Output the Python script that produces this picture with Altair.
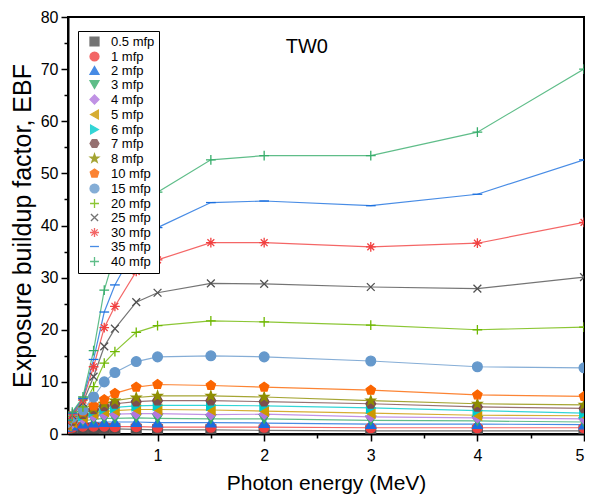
import altair as alt
import pandas as pd

energy = [0.15, 0.2, 0.3, 0.4, 0.5, 0.6, 0.8, 1, 1.5, 2, 3, 4, 5]
series = ["0.5 mfp", "1 mfp", "2 mfp", "3 mfp", "4 mfp", "5 mfp", "6 mfp", "7 mfp",
          "8 mfp", "10 mfp", "15 mfp", "20 mfp", "25 mfp", "30 mfp", "35 mfp", "40 mfp"]

ebf_0_5 = [1.0, 1.1, 1.1, 1.1, 1.0, 1.0, 0.9, 0.8, 0.8, 0.7, 0.6, 0.6, 0.6]
ebf_1 = [1.1, 1.3, 1.5, 1.5, 1.5, 1.4, 1.4, 1.3, 1.3, 1.3, 1.2, 1.2, 1.2]
ebf_2 = [1.3, 1.6, 2.0, 2.2, 2.3, 2.3, 2.3, 2.2, 2.2, 2.1, 1.9, 1.9, 1.8]
ebf_3 = [1.4, 1.8, 2.5, 2.8, 3.0, 3.0, 3.1, 3.0, 2.9, 2.9, 2.6, 2.5, 2.3]
ebf_4 = [1.5, 2.0, 2.9, 3.4, 3.7, 3.8, 3.9, 3.9, 3.7, 3.8, 3.3, 3.1, 2.9]
ebf_5 = [1.6, 2.2, 3.2, 3.9, 4.3, 4.5, 4.7, 4.7, 4.6, 4.4, 4.0, 3.6, 3.5]
ebf_6 = [1.7, 2.4, 3.5, 4.3, 4.8, 5.1, 5.4, 5.5, 5.5, 5.4, 5.0, 4.5, 4.0]
ebf_7 = [1.8, 2.5, 3.8, 4.7, 5.3, 5.8, 6.2, 6.4, 6.4, 6.2, 5.8, 5.2, 4.9]
ebf_8 = [1.9, 2.7, 4.0, 5.0, 5.8, 6.4, 7.0, 7.3, 7.3, 7.1, 6.4, 5.8, 5.6]
ebf_10 = [2.0, 2.9, 4.3, 5.4, 6.6, 7.8, 9.0, 9.5, 9.3, 9.0, 8.4, 7.5, 7.2]
ebf_15 = [2.2, 3.2, 4.6, 7.1, 10.0, 11.8, 13.9, 14.8, 15.0, 14.8, 14.0, 12.9, 12.7]
ebf_20 = [2.3, 3.4, 5.2, 9.1, 13.6, 15.8, 19.5, 20.8, 21.7, 21.5, 20.9, 20.0, 20.5]
ebf_25 = [2.4, 3.6, 6.0, 11.0, 16.8, 20.2, 25.3, 27.1, 28.9, 28.8, 28.2, 27.9, 30.1]
ebf_30 = [2.5, 3.8, 6.5, 12.9, 20.4, 24.5, 31.2, 33.4, 36.7, 36.7, 35.9, 36.6, 40.6]
ebf_35 = [2.6, 4.0, 6.8, 14.3, 23.4, 28.6, 36.0, 39.6, 44.4, 44.7, 43.8, 46.0, 52.6]
ebf_40 = [2.7, 4.2, 7.1, 16.0, 27.6, 34.5, 42.0, 46.4, 52.6, 53.4, 53.4, 57.9, 70.0]

all_values = [ebf_0_5, ebf_1, ebf_2, ebf_3, ebf_4, ebf_5, ebf_6, ebf_7, ebf_8,
              ebf_10, ebf_15, ebf_20, ebf_25, ebf_30, ebf_35, ebf_40]

colors = ["#515151", "#F14040", "#1A6FDF", "#37AD6B", "#B177DE", "#CC9900",
          "#00CBCC", "#7D4E4E", "#8E8E00", "#FB6501", "#6699CC", "#6FB802",
          "#515151", "#F14040", "#1A6FDF", "#37AD6B"]

hexagon = "M-1,0L-0.5,-0.866L0.5,-0.866L1,0L0.5,0.866L-0.5,0.866Z"
star = ("M0,-1L0.235,-0.324L0.951,-0.309L0.38,0.124L0.588,0.809L0,0.4"
        "L-0.588,0.809L-0.38,0.124L-0.951,-0.309L-0.235,-0.324Z")
pentagon = "M0,-1L0.951,-0.309L0.588,0.809L-0.588,0.809L-0.951,-0.309Z"
plus = "M-1,0L1,0M0,-1L0,1"
xcross = "M-0.8,-0.8L0.8,0.8M-0.8,0.8L0.8,-0.8"
aster = "M-1,0L1,0M0,-1L0,1M-0.7,-0.7L0.7,0.7M-0.7,0.7L0.7,-0.7"
dash = "M-1,0L1,0"

shapes = ["square", "circle", "triangle-up", "triangle-down", "diamond",
          "triangle-left", "triangle-right", hexagon, star, pentagon, "circle",
          plus, xcross, aster, dash, plus]

x_major = [1, 2, 3, 4, 5]
x_minor = [0.5, 1.5, 2.5, 3.5, 4.5]
y_major = [0, 10, 20, 30, 40, 50, 60, 70, 80]
y_minor = [5, 15, 25, 35, 45, 55, 65, 75]

rows = []
for name, vals in zip(series, all_values):
    for e, v in zip(energy, vals):
        rows.append({"energy": e, "ebf": v, "series": name})
df = pd.DataFrame(rows)

label_df = pd.DataFrame({"energy": [2.4], "ebf": [74.3], "label": ["TW0"]})

font = "Liberation Sans"

xscale = alt.Scale(domain=[0.16, 5], nice=False, zero=False)
yscale = alt.Scale(domain=[0, 80], nice=False)
cscale = alt.Scale(domain=series, range=colors)

lines = alt.Chart(df).mark_line(strokeWidth=1.2, opacity=0.8, clip=True).encode(
    x=alt.X("energy:Q", scale=xscale, title="Photon energy (MeV)",
            axis=alt.Axis(orient="bottom", values=x_major, format="d", tickSize=7,
                          labelPadding=6, titlePadding=9, titleFontSize=21)),
    y=alt.Y("ebf:Q", scale=yscale, title="Exposure buildup factor, EBF",
            axis=alt.Axis(orient="left", values=y_major, format="d", tickSize=7,
                          labelPadding=3, titlePadding=5, titleFontSize=25)),
    color=alt.Color("series:N", scale=cscale),
    detail="series:N",
)

points = alt.Chart(df).mark_point(filled=False, size=95, strokeWidth=1.3, opacity=1, clip=True).encode(
    x=alt.X("energy:Q", scale=xscale, axis=None),
    y=alt.Y("ebf:Q", scale=yscale, axis=None),
    color=alt.Color("series:N", scale=cscale,
                    legend=alt.Legend(title=None, orient="none", legendX=10, legendY=14,
                                      strokeColor="black", fillColor="white", padding=4,
                                      labelFont=font, labelFontSize=13, symbolSize=80,
                                      rowPadding=0, symbolStrokeWidth=1.3,
                                      symbolOffset=6, labelOffset=10)),
    fill=alt.Fill("series:N", scale=cscale),
    shape=alt.Shape("series:N", scale=alt.Scale(domain=series, range=shapes)),
)

text = alt.Chart(label_df).mark_text(font=font, fontSize=20, color="black").encode(
    x=alt.X("energy:Q", scale=xscale,
            axis=alt.Axis(orient="bottom", values=x_minor, tickSize=4, labels=False,
                          domain=False, title=None)),
    y=alt.Y("ebf:Q", scale=yscale,
            axis=alt.Axis(orient="left", values=y_minor, tickSize=4, labels=False,
                          domain=False, title=None)),
    text="label:N",
)

chart = alt.layer(lines, points, text).resolve_axis(
    x="independent", y="independent"
).properties(
    width=516, height=417,
    autosize=alt.AutoSizeParams(type="none"),
    padding={"left": 60, "top": 9, "right": 1, "bottom": 66},
).configure_view(stroke="black", strokeWidth=2).configure_axis(
    grid=False, domainColor="black", domainWidth=2, tickColor="black", tickWidth=1.5,
    labelFont=font, labelFontSize=16, labelColor="black", titleFont=font,
    titleFontWeight="normal", titleColor="black",
)

chart.save("out.html", embed_options={"renderer": "svg", "actions": False})
